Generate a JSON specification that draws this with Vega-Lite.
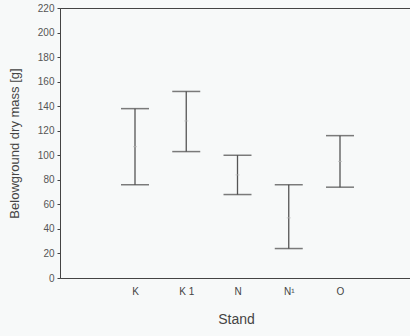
{
  "$schema": "https://vega.github.io/schema/vega-lite/v6.json",
  "width": 370,
  "height": 270,
  "autosize": {"type": "none"},
  "padding": {"left": 60, "top": 8, "right": 0, "bottom": 58},
  "background": "#f7f9f9",
  "config": {
    "view": {"stroke": "#444", "strokeWidth": 1},
    "font": "Liberation Sans"
  },
  "data": {
    "values": [
      {"stand": "K", "mean": 107, "lower": 76, "upper": 138},
      {"stand": "K1", "mean": 128, "lower": 103, "upper": 152},
      {"stand": "N", "mean": 84, "lower": 68, "upper": 100},
      {"stand": "N1", "mean": 49, "lower": 24, "upper": 76},
      {"stand": "O", "mean": 95, "lower": 74, "upper": 116}
    ]
  },
  "encoding": {
    "x": {
      "field": "stand",
      "type": "nominal",
      "sort": null,
      "scale": {"type": "point", "range": [75, 280], "padding": 0},
      "axis": {
        "title": "Stand",
        "titleX": 176,
        "labelAngle": 0,
        "labelColor": "#444",
        "labelFontSize": 10,
        "labelPadding": 8,
        "ticks": false,
        "domain": true,
        "domainColor": "#444",
        "titleFontSize": 14,
        "titleFontWeight": "normal",
        "titleColor": "#444",
        "titlePadding": 16,
        "labelExpr": "datum.value == 'K1' ? 'K 1' : datum.value == 'N1' ? 'N¹' : datum.value"
      }
    }
  },
  "layer": [
    {
      "mark": {"type": "rule", "color": "#555", "strokeWidth": 1.3},
      "encoding": {
        "y": {
          "field": "lower",
          "type": "quantitative",
          "scale": {"domain": [0, 220], "nice": false},
          "axis": {
            "title": "Belowground dry mass [g]",
            "values": [0, 20, 40, 60, 80, 100, 120, 140, 160, 180, 200, 220],
            "labelOverlap": false,
            "labelFlush": false,
            "grid": false,
            "tickSize": 3,
            "tickColor": "#444",
            "domainColor": "#444",
            "labelColor": "#555",
            "labelFontSize": 10,
            "labelPadding": 3,
            "titleFontSize": 13,
            "titleFontWeight": "normal",
            "titleColor": "#444",
            "titlePadding": 16
          }
        },
        "y2": {"field": "upper"}
      }
    },
    {
      "mark": {"type": "tick", "color": "#444", "size": 28, "thickness": 1.5},
      "encoding": {"y": {"field": "lower", "type": "quantitative",
          "axis": {
            "title": "Belowground dry mass [g]",
            "values": [0, 20, 40, 60, 80, 100, 120, 140, 160, 180, 200, 220],
            "labelOverlap": false,
            "labelFlush": false,
            "grid": false,
            "tickSize": 3,
            "tickColor": "#444",
            "domainColor": "#444",
            "labelColor": "#555",
            "labelFontSize": 10,
            "labelPadding": 3,
            "titleFontSize": 13,
            "titleFontWeight": "normal",
            "titleColor": "#444",
            "titlePadding": 16
          }}}
    },
    {
      "mark": {"type": "tick", "color": "#444", "size": 28, "thickness": 1.5},
      "encoding": {"y": {"field": "upper", "type": "quantitative",
          "axis": {
            "title": "Belowground dry mass [g]",
            "values": [0, 20, 40, 60, 80, 100, 120, 140, 160, 180, 200, 220],
            "labelOverlap": false,
            "labelFlush": false,
            "grid": false,
            "tickSize": 3,
            "tickColor": "#444",
            "domainColor": "#444",
            "labelColor": "#555",
            "labelFontSize": 10,
            "labelPadding": 3,
            "titleFontSize": 13,
            "titleFontWeight": "normal",
            "titleColor": "#444",
            "titlePadding": 16
          }}}
    },
    {
      "mark": {"type": "tick", "color": "#bbb", "size": 4, "thickness": 1},
      "encoding": {"y": {"field": "mean", "type": "quantitative",
          "axis": {
            "title": "Belowground dry mass [g]",
            "values": [0, 20, 40, 60, 80, 100, 120, 140, 160, 180, 200, 220],
            "labelOverlap": false,
            "labelFlush": false,
            "grid": false,
            "tickSize": 3,
            "tickColor": "#444",
            "domainColor": "#444",
            "labelColor": "#555",
            "labelFontSize": 10,
            "labelPadding": 3,
            "titleFontSize": 13,
            "titleFontWeight": "normal",
            "titleColor": "#444",
            "titlePadding": 16
          }}}
    }
  ]
}
